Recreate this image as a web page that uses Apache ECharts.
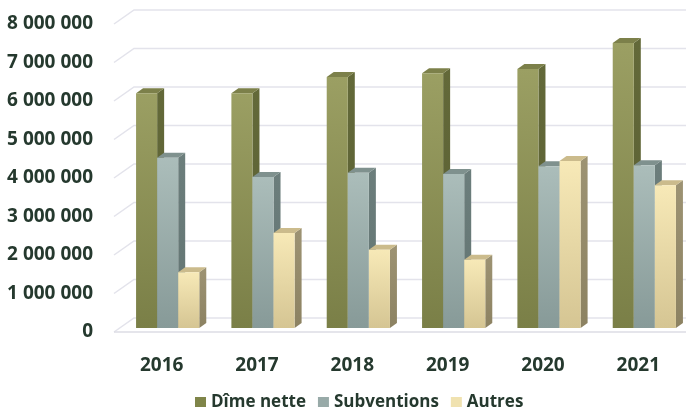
<!DOCTYPE html>
<html><head><meta charset="utf-8">
<script src="https://cdn.jsdelivr.net/npm/echarts@6/dist/echarts.min.js"></script>
<style>html,body{margin:0;padding:0;background:#fff}#c{width:686px;height:407px}</style>
</head><body><div id="c"></div>
<script>
const categories = ['2016', '2017', '2018', '2019', '2020', '2021'];
const dimeNette = [6100000, 6100000, 6520000, 6620000, 6730000, 7400000];
const subventions = [4420000, 3920000, 4030000, 4000000, 4200000, 4230000];
const autres = [1450000, 2470000, 2030000, 1770000, 4340000, 3710000];
const yTicks = [0, 1000000, 2000000, 3000000, 4000000, 5000000, 6000000, 7000000, 8000000];
const seriesNames = ['Dîme nette', 'Subventions', 'Autres'];

const FONT = '"Open Sans", "Liberation Sans", sans-serif';
const TXT = '#25392e';
// 3D projection offsets (pixels)
const SHIFT_X = 6, SHIFT_Y = -4;   // bar plane relative to front floor edge
const DX = 7, DY = -5;             // bar depth
const WALL_X = 20, WALL_Y = -14;   // back wall relative to front floor edge

const palettes = [
  {legend: '#7f8549', front: ['#9b9f63', '#7a7f47'], side: ['#636939', '#5a5f33'], top: '#7c804a'},
  {legend: '#98aaa8', front: ['#abbdba', '#879a98'], side: ['#6c7e7c', '#627472'], top: '#7f918e'},
  {legend: '#f0e2b0', front: ['#f7e9b7', '#d5c593'], side: ['#9d9373', '#8c8262'], top: '#cbbb8c'}
];

function grad(c) {
  return new echarts.graphic.LinearGradient(0, 0, 0, 1, [{offset: 0, color: c[0]}, {offset: 1, color: c[1]}]);
}

function barRender(k) {
  const p = palettes[k];
  return function (params, api) {
    const i = api.value(0), v = api.value(1);
    const base = api.coord([i, 0]);
    const top = api.coord([i, v]);
    const bw = api.size([1, 0])[0] * 0.221;
    const x0 = base[0] + SHIFT_X - 1.5 * bw + k * bw;
    const yb = base[1] + SHIFT_Y;
    const yt = top[1] + SHIFT_Y;
    return {
      type: 'group',
      children: [
        {type: 'polygon', shape: {points: [[x0 + bw, yt], [x0 + bw + DX, yt + DY], [x0 + bw + DX, yb + DY], [x0 + bw, yb]]},
          style: {fill: grad(p.side)}},
        {type: 'polygon', shape: {points: [[x0, yt], [x0 + DX, yt + DY], [x0 + bw + DX, yt + DY], [x0 + bw, yt]]},
          style: {fill: p.top}},
        {type: 'rect', shape: {x: x0, y: yt, width: bw, height: yb - yt},
          style: {fill: grad(p.front)}}
      ]
    };
  };
}

function gridRender(params, api) {
  const cs = params.coordSys;
  const y = api.coord([0, api.value(1)])[1];
  const children = [
    {type: 'polyline', shape: {points: [[cs.x, y], [cs.x + WALL_X, y + WALL_Y], [cs.x + cs.width, y + WALL_Y]]},
      style: {stroke: '#e3e3eb', lineWidth: 1.5, fill: null}}
  ];
  if (api.value(1) === 0) {
    children.push({type: 'line', shape: {x1: cs.x, y1: y, x2: cs.x + cs.width, y2: y},
      style: {stroke: '#dcdce5', lineWidth: 1.5}});
  }
  return {type: 'group', children: children};
}

function fmt(v) {
  return String(v).replace(/\B(?=(\d{3})+(?!\d))/g, ' ');
}

const chart = echarts.init(document.getElementById('c'), null, {renderer: 'canvas'});
const valueLists = [dimeNette, subventions, autres];
chart.setOption({
  backgroundColor: '#ffffff',
  animation: false,
  grid: {left: 114, right: 0, top: 24, bottom: 75, containLabel: false},
  legend: {
    data: seriesNames,
    left: 190, top: 389,
    itemWidth: 11, itemHeight: 11, itemGap: 12,
    icon: 'rect',
    textStyle: {fontFamily: FONT, fontWeight: 'bold', fontSize: 17, color: TXT}
  },
  xAxis: {
    type: 'category', data: categories,
    axisLine: {show: false}, axisTick: {show: false},
    axisLabel: {fontFamily: FONT, fontWeight: 'bold', fontSize: 19, color: TXT, margin: 24}
  },
  yAxis: {
    type: 'value', min: 0, max: 8000000, interval: 1000000,
    axisLine: {show: false}, axisTick: {show: false}, splitLine: {show: false},
    axisLabel: {fontFamily: FONT, fontWeight: 'bold', fontSize: 19, color: TXT, margin: 21, formatter: fmt}
  },
  series: [
    {type: 'custom', name: 'grid', silent: true, renderItem: gridRender,
      data: yTicks.map(v => [0, v]), encode: {x: 0, y: 1}, z: 1}
  ].concat(seriesNames.map((n, k) => ({
    type: 'custom', name: n, renderItem: barRender(k),
    itemStyle: {color: palettes[k].legend},
    data: valueLists[k].map((v, i) => [i, v]), encode: {x: 0, y: 1}, z: 2
  })))
});
</script></body></html>
